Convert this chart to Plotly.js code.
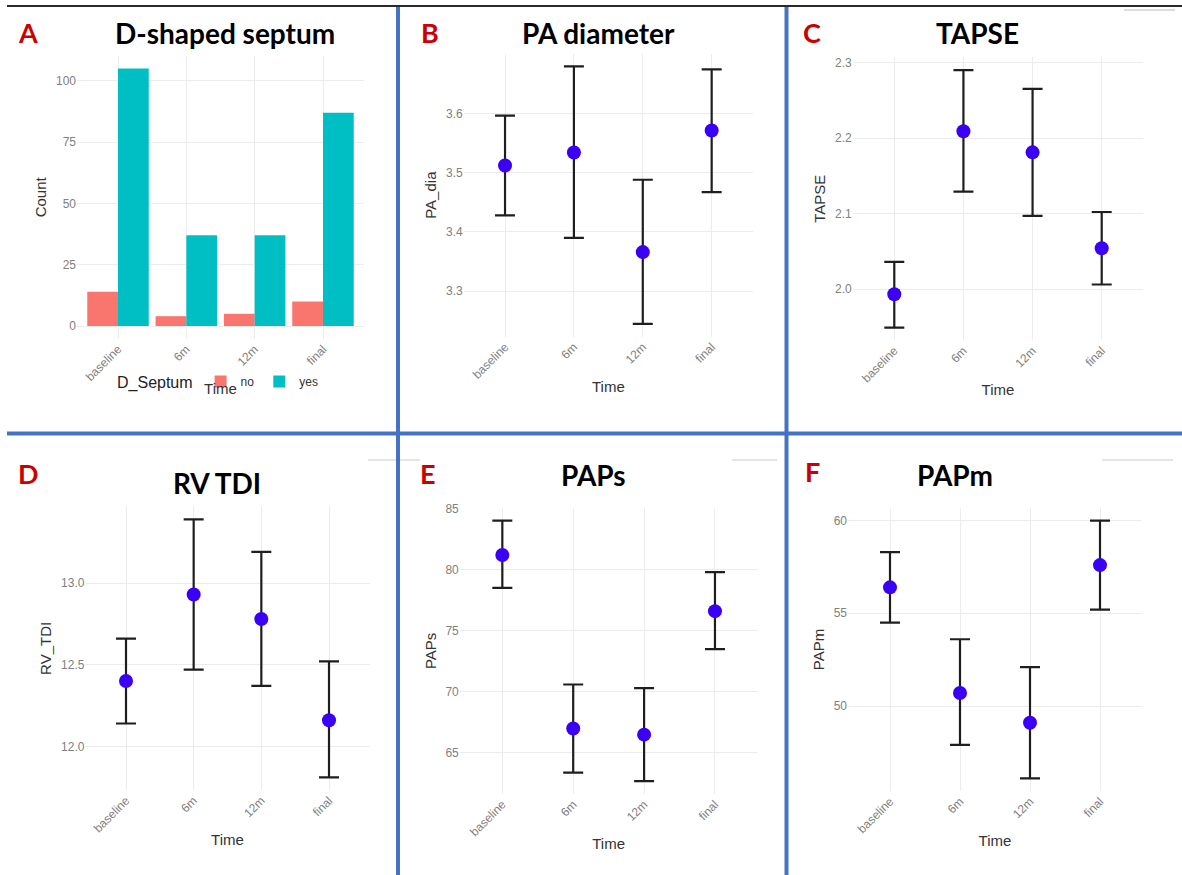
<!DOCTYPE html>
<html>
<head>
<meta charset="utf-8">
<script src="https://cdn.plot.ly/plotly-3.0.1.min.js"></script>
<style>
html,body{margin:0;padding:0;background:#ffffff;}
#chart{width:1182px;height:875px;}
</style>
</head>
<body>
<div id="chart"></div>
<script>
// ---------- data ----------
const timePoints = ['baseline', '6m', '12m', 'final'];

const septumNo  = [14, 4, 5, 10];
const septumYes = [105, 37, 37, 87];

const paDiaMean  = [3.512, 3.534, 3.366, 3.571];
const paDiaUpper = [3.596, 3.679, 3.488, 3.674];
const paDiaLower = [3.428, 3.390, 3.245, 3.467];

const tapseMean  = [1.993, 2.209, 2.181, 2.054];
const tapseUpper = [2.036, 2.290, 2.265, 2.102];
const tapseLower = [1.949, 2.129, 2.097, 2.006];

const rvTdiMean  = [12.40, 12.93, 12.78, 12.16];
const rvTdiUpper = [12.66, 13.39, 13.19, 12.52];
const rvTdiLower = [12.14, 12.47, 12.37, 11.81];

const papsMean  = [81.2, 67.0, 66.5, 76.6];
const papsUpper = [84.0, 70.6, 70.3, 79.8];
const papsLower = [78.5, 63.4, 62.7, 73.5];

const papmMean  = [56.4, 50.7, 49.1, 57.6];
const papmUpper = [58.3, 53.6, 52.1, 60.0];
const papmLower = [54.5, 47.9, 46.1, 55.2];

// tick labels
const countTicks = [0, 25, 50, 75, 100];
const paDiaTicks = [3.3, 3.4, 3.5, 3.6];
const tapseTicks = [2.0, 2.1, 2.2, 2.3];
const rvTdiTicks = [12.0, 12.5, 13.0];
const papsTicks  = [65, 70, 75, 80, 85];
const papmTicks  = [50, 55, 60];

// ---------- layout helpers ----------
const W = 1182, H = 875;
const px = v => v / W;
const py = v => 1 - v / H;

const TICK_FONT = {family: 'Liberation Sans, Arial, sans-serif', size: 12, color: '#808080'};
const AXT_FONT  = {family: 'Liberation Sans, Arial, sans-serif', size: 15, color: '#333333'};
const GRID = '#ececec';
const POINT = '#3a00f5';
const EBAR = '#1e1e1e';

function expandRange(lo, hi) {
  const d = (hi - lo) * 0.05;
  return [lo - d, hi + d];
}

// pixel boxes [left, right, top, bottom]
const boxes = {
  A: [77, 364, 55.7, 338.9],
  B: [463.7, 753, 53.6, 336.7],
  C: [852.8, 1143.2, 57.2, 340.4],
  D: [85.4, 369.6, 506.4, 790.3],
  E: [459.8, 757.5, 507.7, 794.1],
  F: [848, 1142, 507.7, 791.2]
};

function xAxis(box) {
  return {
    domain: [px(box[0]), px(box[1])],
    type: 'category',
    range: [-0.6, 3.6],
    showgrid: true, gridcolor: GRID, gridwidth: 1,
    zeroline: false, showline: false, ticks: '',
    tickangle: -45, tickfont: TICK_FONT,
    title: {text: 'Time', font: AXT_FONT, standoff: 0},
    fixedrange: true
  };
}
function yAxis(box, range, vals, fmt, title, anchor) {
  return {
    domain: [py(box[3]), py(box[2])],
    range: range,
    tickmode: 'array', tickvals: vals,
    tickformat: fmt,
    showgrid: true, gridcolor: GRID, gridwidth: 1,
    zeroline: false, showline: false, ticks: '',
    tickfont: TICK_FONT,
    title: {text: title, font: AXT_FONT, standoff: 5},
    anchor: anchor,
    fixedrange: true
  };
}

function diffs(a, b) { return a.map((v, i) => v - b[i]); }

function pointTrace(mean, upper, lower, xa, ya) {
  return {
    type: 'scatter', mode: 'markers',
    x: timePoints, y: mean,
    xaxis: xa, yaxis: ya,
    showlegend: false,
    marker: {color: POINT, size: 14},
    error_y: {
      type: 'data', symmetric: false,
      array: diffs(upper, mean),
      arrayminus: diffs(mean, lower),
      color: EBAR, thickness: 2.2, width: 10
    },
    hoverinfo: 'skip'
  };
}

const traces = [
  {type: 'bar', name: 'no', x: timePoints, y: septumNo, xaxis: 'x', yaxis: 'y',
   marker: {color: '#F8766D'}, legendrank: 1},
  {type: 'bar', name: 'yes', x: timePoints, y: septumYes, xaxis: 'x', yaxis: 'y',
   marker: {color: '#00BFC4'}, legendrank: 2},
  pointTrace(paDiaMean, paDiaUpper, paDiaLower, 'x2', 'y2'),
  pointTrace(tapseMean, tapseUpper, tapseLower, 'x3', 'y3'),
  pointTrace(rvTdiMean, rvTdiUpper, rvTdiLower, 'x4', 'y4'),
  pointTrace(papsMean, papsUpper, papsLower, 'x5', 'y5'),
  pointTrace(papmMean, papmUpper, papmLower, 'x6', 'y6')
];

const rB = expandRange(Math.min(...paDiaLower), Math.max(...paDiaUpper));
const rC = expandRange(Math.min(...tapseLower), Math.max(...tapseUpper));
const rD = expandRange(Math.min(...rvTdiLower), Math.max(...rvTdiUpper));
const rE = expandRange(Math.min(...papsLower), Math.max(...papsUpper));
const rF = expandRange(Math.min(...papmLower), Math.max(...papmUpper));
const rA = expandRange(0, Math.max(...septumYes));

const TITLE_FONT = {family: 'Lato, Open Sans, sans-serif', size: 28, color: '#000000', weight: 'bold'};
const LETTER_FONT = {family: 'Lato, Open Sans, sans-serif', size: 27, color: '#cc0000', weight: 'bold'};

function ann(text, x, y, font) {
  return {text: text, x: px(x), y: py(y), xref: 'paper', yref: 'paper',
          xanchor: 'center', yanchor: 'middle', showarrow: false, font: font};
}

const annotations = [
  ann('<b>A</b>', 28, 33, LETTER_FONT),
  ann('<b>B</b>', 430, 33, LETTER_FONT),
  ann('<b>C</b>', 812, 33, LETTER_FONT),
  ann('<b>D</b>', 29, 473, LETTER_FONT),
  ann('<b>E</b>', 428, 473, LETTER_FONT),
  ann('<b>F</b>', 812, 471, LETTER_FONT),
  ann('<b>D-shaped septum</b>', 225, 33, TITLE_FONT),
  ann('<b>PA diameter</b>', 598, 33, TITLE_FONT),
  ann('<b>TAPSE</b>', 977, 33, TITLE_FONT),
  ann('<b>RV TDI</b>', 217, 483, TITLE_FONT),
  ann('<b>PAPs</b>', 593, 475, TITLE_FONT),
  ann('<b>PAPm</b>', 955, 475, TITLE_FONT)
];

function line(x0, y0, x1, y1, color, width) {
  return {type: 'line', xref: 'paper', yref: 'paper',
          x0: px(x0), y0: py(y0), x1: px(x1), y1: py(y1),
          line: {color: color, width: width}, layer: 'above'};
}
const BLUE = '#4472c4';
const shapes = [
  line(7, 6, 1182, 6, '#2a2a2a', 2),
  line(1124, 10, 1175, 10, '#dddddd', 2),
  line(368, 460, 420, 460, '#dddddd', 1.5),
  line(732, 460, 777, 460, '#dddddd', 1.5),
  line(1102, 460, 1173, 460, '#dddddd', 1.5),
  line(7, 433.5, 1182, 433.5, BLUE, 4),
  line(398, 7, 398, 875, BLUE, 4),
  line(786.5, 7, 786.5, 875, BLUE, 4)
];

const layout = {
  width: W, height: H,
  margin: {l: 0, r: 0, t: 0, b: 0},
  paper_bgcolor: '#ffffff', plot_bgcolor: '#ffffff',
  barmode: 'group', bargap: 0.1, bargroupgap: 0,
  showlegend: true,
  legend: {
    orientation: 'h',
    x: px(115), xanchor: 'left',
    y: py(382.5), yanchor: 'middle',
    title: {text: 'D_Septum', font: {family: 'Liberation Sans, Arial, sans-serif', size: 16, color: '#222222'}},
    font: {family: 'Liberation Sans, Arial, sans-serif', size: 12, color: '#333333'},
    bgcolor: 'rgba(0,0,0,0)',
    traceorder: 'normal'
  },
  xaxis: Object.assign(xAxis(boxes.A), {anchor: 'y'}),
  yaxis: yAxis(boxes.A, rA, countTicks, 'd', 'Count', 'x'),
  xaxis2: Object.assign(xAxis(boxes.B), {anchor: 'y2'}),
  yaxis2: yAxis(boxes.B, rB, paDiaTicks, '.1f', 'PA_dia', 'x2'),
  xaxis3: Object.assign(xAxis(boxes.C), {anchor: 'y3'}),
  yaxis3: yAxis(boxes.C, rC, tapseTicks, '.1f', 'TAPSE', 'x3'),
  xaxis4: Object.assign(xAxis(boxes.D), {anchor: 'y4'}),
  yaxis4: yAxis(boxes.D, rD, rvTdiTicks, '.1f', 'RV_TDI', 'x4'),
  xaxis5: Object.assign(xAxis(boxes.E), {anchor: 'y5'}),
  yaxis5: yAxis(boxes.E, rE, papsTicks, 'd', 'PAPs', 'x5'),
  xaxis6: Object.assign(xAxis(boxes.F), {anchor: 'y6'}),
  yaxis6: yAxis(boxes.F, rF, papmTicks, 'd', 'PAPm', 'x6'),
  annotations: annotations,
  shapes: shapes
};

Plotly.newPlot('chart', traces, layout, {displayModeBar: false, staticPlot: true});
</script>
</body>
</html>
